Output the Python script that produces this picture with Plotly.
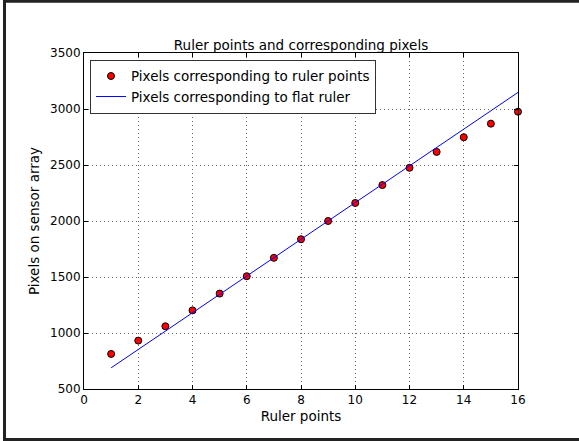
import plotly.graph_objects as go

# Data
ruler_points = [1, 2, 3, 4, 5, 6, 7, 8, 9, 10, 11, 12, 13, 14, 15, 16]
pixel_values = [813, 932, 1060, 1202, 1352, 1507, 1671, 1837, 2000, 2161,
                2321, 2475, 2617, 2748, 2869, 2976]
flat_ruler_x = [1, 16]
flat_ruler_y = [689, 3148]

x_ticks = [0, 2, 4, 6, 8, 10, 12, 14, 16]
y_ticks = [500, 1000, 1500, 2000, 2500, 3000, 3500]

FONT = "DejaVu Sans"
FS = 13.5
TFS = 12

fig = go.Figure()
fig.add_trace(go.Scatter(
    x=ruler_points, y=pixel_values, mode="markers",
    name="Pixels corresponding to ruler points",
    marker=dict(symbol="circle", size=7, color="#ff0000",
                line=dict(color="black", width=1)),
    cliponaxis=False,
))
fig.add_trace(go.Scatter(
    x=flat_ruler_x, y=flat_ruler_y, mode="lines",
    name="Pixels corresponding to flat ruler",
    line=dict(color="#0000ff", width=1),
))

axis_common = dict(
    showline=True, linecolor="black", linewidth=1, mirror="allticks",
    ticks="inside", ticklen=4, tickcolor="black", tickwidth=1,
    showgrid=True, gridcolor="#666666", gridwidth=1, griddash="1px,3px",
    zeroline=False,
    tickfont=dict(family=FONT, size=TFS, color="black"),
    title_font=dict(family=FONT, size=FS, color="black"),
)

fig.update_xaxes(range=[0, 16], tickvals=x_ticks, title_text="Ruler points",
                 title_standoff=5, **axis_common)
fig.update_yaxes(range=[500, 3500], tickvals=y_ticks,
                 title_text="Pixels on sensor array", title_standoff=7,
                 **axis_common)

fig.update_layout(
    width=579, height=441,
    margin=dict(l=84, r=61, t=53, b=52),
    paper_bgcolor="white", plot_bgcolor="white",
    font=dict(family=FONT, size=FS, color="black"),
    title=dict(text="Ruler points and corresponding pixels",
               x=0.5, xref="paper", xanchor="center",
               y=1, yref="paper", yanchor="bottom",
               pad=dict(b=3),
               font=dict(family=FONT, size=FS, color="black")),
    showlegend=True,
    legend=dict(x=0.0138, y=0.98, xanchor="left", yanchor="top",
                bordercolor="#333333", borderwidth=1, bgcolor="white",
                font=dict(family=FONT, size=FS, color="black"),
                tracegroupgap=0),
    shapes=[
        dict(type="rect", xref="paper", yref="paper",
             x0=(4.5 - 84) / 434, x1=(590 - 84) / 434,
             y0=(389.3 - 439.7) / 336, y1=(389.3 - 1.5) / 336,
             line=dict(color="#222222", width=3), fillcolor="rgba(0,0,0,0)",
             layer="below"),
    ],
)

fig.write_html("out.html")
